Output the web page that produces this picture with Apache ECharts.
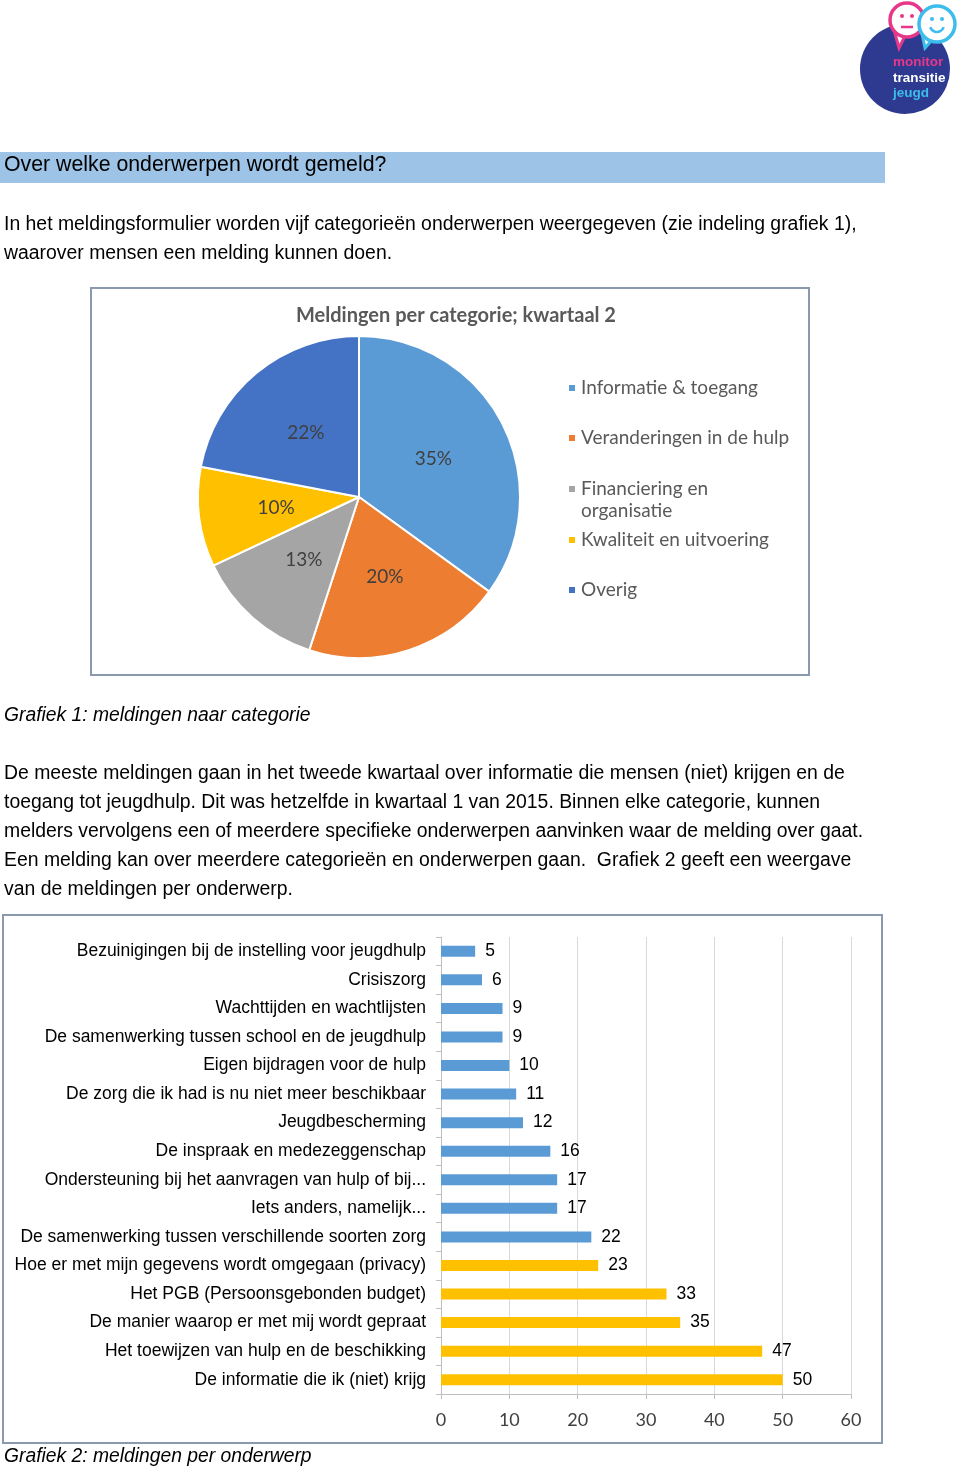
<!DOCTYPE html>
<html>
<head>
<meta charset="utf-8">
<script src="https://cdn.jsdelivr.net/npm/echarts@6/dist/echarts.min.js"></script>
<style>
html,body{margin:0;padding:0;background:#fff;}
#page{width:960px;height:1469px;}
</style>
</head>
<body>
<div id="page"></div>
<script>
// ---------- DATA ----------
const pieTitle = 'Meldingen per categorie; kwartaal 2';
const pieCategories = ['Informatie & toegang', 'Veranderingen in de hulp', 'Financiering en organisatie', 'Kwaliteit en uitvoering', 'Overig'];
const pieValues = [35, 20, 13, 10, 22];

const barCategories = [
  'Bezuinigingen bij de instelling voor jeugdhulp',
  'Crisiszorg',
  'Wachttijden en wachtlijsten',
  'De samenwerking tussen school en de jeugdhulp',
  'Eigen bijdragen voor de hulp',
  'De zorg die ik had is nu niet meer beschikbaar',
  'Jeugdbescherming',
  'De inspraak en medezeggenschap',
  'Ondersteuning bij het aanvragen van hulp of bij...',
  'Iets anders, namelijk...',
  'De samenwerking tussen verschillende soorten zorg',
  'Hoe er met mijn gegevens wordt omgegaan (privacy)',
  'Het PGB (Persoonsgebonden budget)',
  'De manier waarop er met mij wordt gepraat',
  'Het toewijzen van hulp en de beschikking',
  'De informatie die ik (niet) krijg'
];
const barValues = [5, 6, 9, 9, 10, 11, 12, 16, 17, 17, 22, 23, 33, 35, 47, 50];
const barHighlighted = [false,false,false,false,false,false,false,false,false,false,false,true,true,true,true,true];
const xTicks = [0, 10, 20, 30, 40, 50, 60];

const headerText = 'Over welke onderwerpen wordt gemeld?';
const para1 = [
  'In het meldingsformulier worden vijf categorieën onderwerpen weergegeven (zie indeling grafiek 1),',
  'waarover mensen een melding kunnen doen.'
];
const caption1 = 'Grafiek 1: meldingen naar categorie';
const para2 = [
  'De meeste meldingen gaan in het tweede kwartaal over informatie die mensen (niet) krijgen en de',
  'toegang tot jeugdhulp. Dit was hetzelfde in kwartaal 1 van 2015. Binnen elke categorie, kunnen',
  'melders vervolgens een of meerdere specifieke onderwerpen aanvinken waar de melding over gaat.',
  'Een melding kan over meerdere categorieën en onderwerpen gaan.  Grafiek 2 geeft een weergave',
  'van de meldingen per onderwerp.'
];
const caption2 = 'Grafiek 2: meldingen per onderwerp';
const logoWords = ['monitor', 'transitie', 'jeugd'];

// ---------- STYLE ----------
const SANS = '"Liberation Sans", Arial, sans-serif';
const CAL = 'Lato, "Liberation Sans", sans-serif';
const pieColors = ['#5B9BD5', '#ED7D31', '#A5A5A5', '#FFC000', '#4472C4'];
const BLUE = '#5B9BD5', YELLOW = '#FFC000';

const chart = echarts.init(document.getElementById('page'), null, {renderer: 'canvas', width: 960, height: 1469});

function textEl(t, x, y, font, fill, align) {
  return {type: 'text', x: x, y: y, z: 10,
    style: {text: t, font: font, fill: fill || '#000', textAlign: align || 'left', textVerticalAlign: 'middle'}};
}

const graphics = [];
// logo
graphics.push({type: 'circle', shape: {cx: 905, cy: 69, r: 45}, style: {fill: '#2E3A8F'}, z: 1});
graphics.push({type: 'polygon', shape: {points: [[894, 30], [899, 48], [906, 34]]}, style: {fill: '#fff', stroke: '#E6378A', lineWidth: 3}, z: 2});
graphics.push({type: 'circle', shape: {cx: 907, cy: 20, r: 17}, style: {fill: '#fff', stroke: '#E6378A', lineWidth: 3.5}, z: 3});
graphics.push({type: 'polygon', shape: {points: [[922, 34], [925, 48], [932, 40]]}, style: {fill: '#fff', stroke: '#3CBDEB', lineWidth: 3}, z: 4});
graphics.push({type: 'circle', shape: {cx: 937, cy: 24, r: 18}, style: {fill: '#fff', stroke: '#3CBDEB', lineWidth: 3.5}, z: 5});
graphics.push({type: 'circle', shape: {cx: 902, cy: 16, r: 2}, style: {fill: '#E6378A'}, z: 6});
graphics.push({type: 'circle', shape: {cx: 912, cy: 16, r: 2}, style: {fill: '#E6378A'}, z: 6});
graphics.push({type: 'line', shape: {x1: 901, y1: 27, x2: 913, y2: 27}, style: {stroke: '#E6378A', lineWidth: 2.5}, z: 6});
graphics.push({type: 'circle', shape: {cx: 932, cy: 19, r: 2}, style: {fill: '#3CBDEB'}, z: 6});
graphics.push({type: 'circle', shape: {cx: 942, cy: 19, r: 2}, style: {fill: '#3CBDEB'}, z: 6});
graphics.push({type: 'arc', shape: {cx: 937, cy: 25, r: 7, startAngle: 0.3, endAngle: Math.PI - 0.3}, style: {stroke: '#3CBDEB', lineWidth: 2.5, fill: null}, z: 6});
graphics.push(textEl(logoWords[0], 893, 62, 'bold 13.5px ' + SANS, '#E6378A'));
graphics.push(textEl(logoWords[1], 893, 78, 'bold 13.5px ' + SANS, '#ffffff'));
graphics.push(textEl(logoWords[2], 893, 93, 'bold 13.5px ' + SANS, '#3CBDEB'));

// header bar
graphics.push({type: 'rect', shape: {x: 0, y: 152, width: 885, height: 31}, style: {fill: '#9DC3E6'}, z: 1});
graphics.push(textEl(headerText, 4, 165, '21.3px ' + SANS, '#000'));
para1.forEach((t, i) => graphics.push(textEl(t, 4, 225 + i * 28.5, '19.4px ' + SANS, '#000')));
// pie box
graphics.push({type: 'rect', shape: {x: 91, y: 288, width: 718, height: 387}, style: {fill: null, stroke: '#8A99AE', lineWidth: 2}, z: 1});
graphics.push(textEl(caption1, 4, 716, 'italic 19.3px ' + SANS, '#000'));
para2.forEach((t, i) => graphics.push(textEl(t, 4, 774 + i * 29, '19.4px ' + SANS, '#000')));
// bar box
graphics.push({type: 'rect', shape: {x: 3, y: 915, width: 879, height: 528}, style: {fill: null, stroke: '#8A99AE', lineWidth: 2}, z: 1});
graphics.push(textEl(caption2, 4, 1457, 'italic 19.3px ' + SANS, '#000'));
// second line of the two-line legend entry
graphics.push(textEl('organisatie', 581, 511, '19px ' + CAL, '#595959'));

const legendCenters = [388, 438, 489, 540, 590];
const legends = pieCategories.map((name, i) => ({
  data: [name], left: 567, top: legendCenters[i] - 11, padding: 0, orient: 'vertical',
  icon: 'rect', itemWidth: 8, itemHeight: 8, itemGap: 6, selectedMode: false,
  formatter: n => n === 'Financiering en organisatie' ? 'Financiering en' : n,
  textStyle: {fontFamily: CAL, fontSize: 19, color: '#595959', lineHeight: 22}
}));

const option = {
  animation: false,
  color: pieColors,
  title: {text: pieTitle, left: 451, top: 301, textAlign: 'center',
    textStyle: {fontFamily: CAL, fontSize: 20, fontWeight: 'bold', color: '#595959'}},
  legend: legends,
  grid: {left: 441, right: 109, top: 937, bottom: 75, containLabel: false},
  xAxis: {
    type: 'value', min: 0, max: 60, interval: 10,
    axisLine: {show: true, lineStyle: {color: '#BFBFBF'}},
    axisTick: {show: true, length: 5, lineStyle: {color: '#BFBFBF'}},
    axisLabel: {margin: 17, fontFamily: CAL, fontSize: 18, color: '#404040',
      formatter: v => String(xTicks[xTicks.indexOf(v)])},
    splitLine: {show: true, lineStyle: {color: '#D9D9D9'}}
  },
  yAxis: {
    type: 'category', inverse: true, data: barCategories,
    axisLine: {show: true, lineStyle: {color: '#BFBFBF'}},
    axisTick: {show: true, length: 5, lineStyle: {color: '#BFBFBF'}},
    axisLabel: {margin: 15, fontFamily: SANS, fontSize: 17.5, color: '#000'}
  },
  series: [
    {
      type: 'pie', center: [359, 497], radius: 161, startAngle: 90, clockwise: true,
      data: pieCategories.map((n, i) => ({name: n, value: pieValues[i]})),
      itemStyle: {borderColor: '#fff', borderWidth: 2},
      label: {show: true, position: 'inside', formatter: '{c}%', fontFamily: CAL, fontSize: 19, color: '#404040'},
      labelLine: {show: false}, emphasis: {disabled: true}
    },
    {
      type: 'bar', data: barValues, barWidth: 11,
      itemStyle: {color: p => barHighlighted[p.dataIndex] ? YELLOW : BLUE},
      label: {show: true, position: 'right', distance: 10, fontFamily: SANS, fontSize: 17.5, color: '#000'}
    }
  ],
  graphic: {elements: graphics}
};
chart.setOption(option);
</script>
</body>
</html>
